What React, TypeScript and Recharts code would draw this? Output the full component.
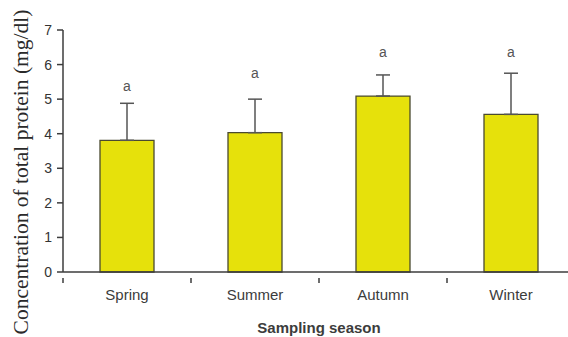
import { Bar, ComposedChart, ErrorBar, Label, Scatter, XAxis, YAxis } from "recharts";

const seasons = ["Spring", "Summer", "Autumn", "Winter"];
const protein = [3.81, 4.03, 5.09, 4.56];
const upperError = [1.07, 0.97, 0.61, 1.19];
const groupLetters = ["a", "a", "a", "a"];
const letterHeights = [5.39, 5.76, 6.37, 6.37];
const yTicks = [0, 1, 2, 3, 4, 5, 6, 7];

const ink = "#3c3c3c";
const sans = "'Liberation Sans', Arial, sans-serif";

const rows = seasons.map((s, i) => ({
  season: s,
  value: protein[i],
  err: [0, upperError[i]],
  letter: groupLetters[i],
  letterY: letterHeights[i],
}));

function YTitle({ viewBox }: any) {
  const cx = 21;
  const cy = viewBox.y + viewBox.height / 2 + 21;
  return (
    <text
      x={cx}
      y={cy}
      transform={`rotate(-90 ${cx} ${cy})`}
      textAnchor="middle"
      dominantBaseline="central"
      fill="#2a2a2a"
      style={{ fontFamily: "'Liberation Serif', 'Times New Roman', serif", fontSize: 21.5 }}
    >
      Concentration of total protein (mg/dl)
    </text>
  );
}

// category label centred in the band, tick mark on the band's left edge
function SeasonTick({ x, y, payload }: any) {
  const left = x - (payload.offset || 0);
  return (
    <g>
      <line x1={left} x2={left} y1={y} y2={y + 5} stroke={ink} strokeWidth={1.5} />
      <text x={x} y={y + 11} dy="0.71em" textAnchor="middle" fill={ink} style={{ fontFamily: sans, fontSize: 15 }}>
        {payload.value}
      </text>
    </g>
  );
}

function Letter({ cx, cy, payload }: any) {
  return (
    <text x={cx} y={cy} textAnchor="middle" dominantBaseline="central" fill="#555" style={{ fontFamily: sans, fontSize: 14 }}>
      {payload.letter}
    </text>
  );
}

export default function App() {
  return (
    <div style={{ position: "absolute", left: 0, top: 0, width: 568, height: 337, overflow: "hidden", background: "#fff" }}>
      <ComposedChart width={600} height={337} data={rows} margin={{ top: 30, right: 25, bottom: 0, left: 0 }}>
        <XAxis
          dataKey="season"
          height={65}
          tickLine={false}
          tickMargin={0}
          axisLine={{ stroke: ink, strokeWidth: 1.5 }}
          tick={<SeasonTick />}
        >
          <Label
            value="Sampling season"
            position="insideBottom"
            offset={4}
            style={{ fontFamily: sans, fontSize: 15, fontWeight: "bold", fill: ink }}
          />
        </XAxis>
        <YAxis
          width={63}
          domain={[0, 7]}
          ticks={yTicks}
          tickSize={6}
          tickMargin={5}
          axisLine={{ stroke: ink, strokeWidth: 1.5 }}
          tickLine={{ stroke: ink, strokeWidth: 1.5 }}
          tick={{ fill: "#333", fontSize: 14, fontFamily: sans }}
          label={<YTitle />}
        />
        <Bar dataKey="value" barSize={54} fill="#e6e10b" stroke="#4a4a30" strokeWidth={1.3} isAnimationActive={false}>
          <ErrorBar dataKey="err" width={7} stroke="#555" strokeWidth={1.5} direction="y" />
        </Bar>
        <Scatter dataKey="letterY" shape={<Letter />} isAnimationActive={false} />
      </ComposedChart>
    </div>
  );
}
